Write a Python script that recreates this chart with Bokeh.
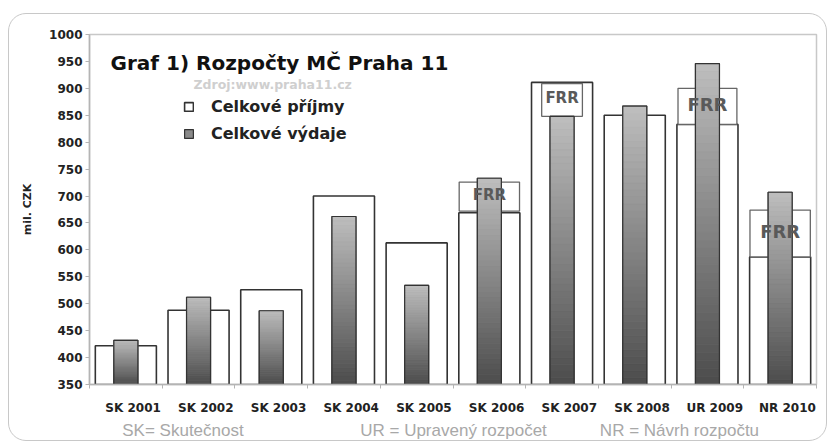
import numpy as np
from bokeh.plotting import figure
from bokeh.models import (ColumnDataSource, FixedTicker, CustomJSTickFormatter,
                          Label, Legend, LegendItem, Range1d, LinearAxis)
from bokeh.core.properties import value
from bokeh.embed import file_html
from bokeh.resources import INLINE

# ---------------- data ----------------
categories = ["SK 2001", "SK 2002", "SK 2003", "SK 2004", "SK 2005",
              "SK 2006", "SK 2007", "SK 2008", "UR 2009", "NR 2010"]
prijmy = [422, 488, 526, 700, 613, 669, 911, 850, 833, 587]   # Celkové příjmy
vydaje = [432, 512, 487, 662, 534, 733, 848, 867, 946, 707]   # Celkové výdaje

frr_index = [5, 6, 8, 9]
frr_bottom = [672, 848, 833, 587]
frr_top = [726, 909, 900, 674]

y_ticks = list(range(350, 1001, 50))

notes = ["SK= Skutečnost", "UR = Upravený rozpočet", "NR = Návrh rozpočtu"]

# ---------------- styling helpers ----------------
FONT = "DejaVu Sans"
x_centers = [i + 0.5 for i in range(len(categories))]
label_pos = [c + 0.1 for c in x_centers]
note_pos = [1.286, 5.007, 8.115]
frr_width = [0.83, 0.56, 0.81, 0.83]
frr_fsize = ["15px", "15px", "18px", "18px"]

p = figure(width=819, height=428, output_backend="svg", toolbar_location=None,
           x_range=Range1d(0, len(categories)), y_range=Range1d(350, 1000),
           min_border_left=80, min_border_right=12, min_border_top=20,
           min_border_bottom=57)
p.styles = {"border": "1px solid #c8c8c8", "border-radius": "18px",
            "margin-top": "13px", "margin-left": "8px"}
p.border_fill_color = None
p.background_fill_color = "white"
p.outline_line_color = "#c8c8c8"
p.outline_line_width = 1.5
p.xgrid.visible = False
p.ygrid.visible = False

# white bars: income
src_p = ColumnDataSource(dict(x=x_centers, top=prijmy))
r_white = p.vbar(x="x", top="top", bottom=350, width=0.84, source=src_p,
                 fill_color="white", line_color="#333333", line_width=1.6)

# FRR boxes (white) drawn before the grey bars
src_f = ColumnDataSource(dict(
    x=[x_centers[i] for i in frr_index], bottom=frr_bottom, top=frr_top,
    w=frr_width, ty=[(b + t) / 2 for b, t in zip(frr_bottom, frr_top)],
    fs=frr_fsize, label=["FRR"] * len(frr_index)))
p.vbar(x="x", bottom="bottom", top="top", width="w", source=src_f,
       fill_color="white", line_color="#666666", line_width=1.3)

# grey bars: expenses, with vertical gradient
r_grey = p.vbar(x=x_centers, top=vydaje, bottom=350, width=0.33,
                fill_color="#8a8a8a", line_color="#333333", line_width=1.2)
N = 40
light = np.array([0xbe, 0xbe, 0xbe])
dark = np.array([0x4c, 0x4c, 0x4c])
gx, gb, gt, gc = [], [], [], []
for xc, v in zip(x_centers, vydaje):
    edges = np.linspace(350, v, N + 1)
    for k in range(N):
        t = (k + 0.5) / N
        c = dark + (light - dark) * t
        gx.append(xc)
        gb.append(edges[k])
        gt.append(edges[k + 1])
        gc.append("#%02x%02x%02x" % tuple(int(round(a)) for a in c))
p.vbar(x=gx, bottom=gb, top=gt, width=0.33, fill_color=gc, line_color=gc,
       line_width=0.5)
p.vbar(x=x_centers, top=vydaje, bottom=350, width=0.33,
       fill_color=None, line_color="#333333", line_width=1.2)

# FRR labels
p.text(x="x", y="ty", text="label", source=src_f, text_align="center",
       text_baseline="middle", text_font=value(FONT), text_font_style="bold",
       text_font_size="fs", text_color="#5a5a5a", y_offset=-2)

# ---------------- axes ----------------
p.yaxis.ticker = FixedTicker(ticks=y_ticks)
p.yaxis.axis_label = "mil. CZK"
p.yaxis.axis_label_text_font = FONT
p.yaxis.axis_label_text_font_style = "bold"
p.yaxis.axis_label_text_font_size = "11px"
p.yaxis.axis_label_text_color = "#222222"
p.yaxis.axis_label_standoff = 12
p.yaxis.major_label_text_font = FONT
p.yaxis.major_label_text_font_style = "bold"
p.yaxis.major_label_text_font_size = "12px"
p.yaxis.major_label_text_color = "#222222"
p.yaxis.major_label_standoff = 3
p.yaxis.major_tick_in = 0
p.yaxis.major_tick_out = 4
p.yaxis.minor_tick_line_color = None
p.yaxis.axis_line_color = "#b4b4b4"
p.yaxis.axis_line_width = 1.5
p.yaxis.major_tick_line_color = "#b4b4b4"

p.xaxis.ticker = FixedTicker(ticks=label_pos,
                             minor_ticks=list(range(len(categories) + 1)))
p.xaxis.formatter = CustomJSTickFormatter(args=dict(labels=categories),
                                          code="return labels[Math.floor(tick)];")
p.xaxis.major_label_text_font = FONT
p.xaxis.major_label_text_font_style = "bold"
p.xaxis.major_label_text_font_size = "12px"
p.xaxis.major_label_text_color = "#222222"
p.xaxis.major_label_standoff = 12
p.xaxis.major_tick_line_color = None
p.xaxis.major_tick_in = 0
p.xaxis.major_tick_out = 0
p.xaxis.minor_tick_in = 0
p.xaxis.minor_tick_out = 4
p.xaxis.minor_tick_line_color = "#b4b4b4"
p.xaxis.axis_line_color = "#b4b4b4"
p.xaxis.axis_line_width = 1.5

# notes line below the category labels (as a second, line-less axis)
ax2 = LinearAxis(ticker=FixedTicker(ticks=note_pos, minor_ticks=[]),
                 formatter=CustomJSTickFormatter(
                     args=dict(labels=notes, pos=note_pos),
                     code="const i = pos.findIndex(q => Math.abs(q - tick) < 1e-6);"
                          " return i >= 0 ? labels[i] : '';"))
ax2.axis_line_color = None
ax2.major_tick_line_color = None
ax2.minor_tick_line_color = None
ax2.major_tick_in = 0
ax2.major_tick_out = 0
ax2.major_label_standoff = 3
ax2.major_label_text_font = "Liberation Sans"
ax2.major_label_text_font_size = "17px"
ax2.major_label_text_color = "#a8a8a8"
p.add_layout(ax2, "below")

# ---------------- texts ----------------
p.add_layout(Label(x=0.29, y=948, text="Graf 1) Rozpočty MČ Praha 11",
                   text_font=FONT, text_font_style="bold", text_font_size="20px",
                   text_color="#111111", text_baseline="middle"))
p.add_layout(Label(x=2.52, y=907, text="Zdroj:www.praha11.cz",
                   text_font=FONT, text_font_style="bold", text_font_size="12.5px",
                   text_color="#cfcfcf", text_baseline="middle", text_align="center"))

legend = Legend(items=[LegendItem(label="Celkové příjmy", renderers=[r_white]),
                       LegendItem(label="Celkové výdaje", renderers=[r_grey])],
                location=(94, 241), orientation="vertical",
                glyph_width=11, glyph_height=11, label_height=16, spacing=8,
                label_standoff=17, padding=0, margin=0,
                border_line_color=None, background_fill_color=None,
                label_text_font=FONT, label_text_font_style="bold",
                label_text_font_size="16px", label_text_color="#222222")
p.add_layout(legend)

open("out.html", "w").write(file_html(p, INLINE))
